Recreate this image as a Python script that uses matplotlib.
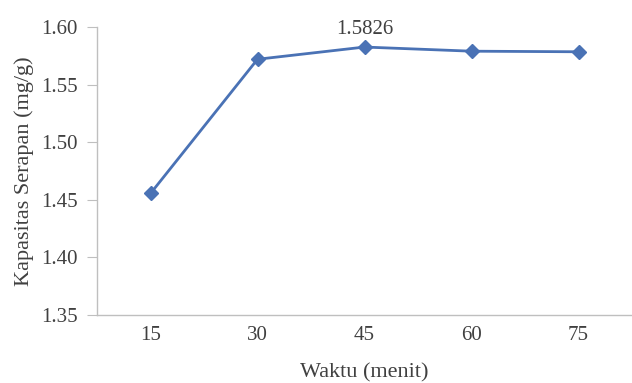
import matplotlib
matplotlib.use("Agg")
import matplotlib.pyplot as plt

# Data
waktu = ["15", "30", "45", "60", "75"]
kapasitas = [1.4555, 1.5720, 1.5826, 1.5790, 1.5785]
yticks = [1.35, 1.40, 1.45, 1.50, 1.55, 1.60]

plt.rcParams['font.family'] = ['Liberation Serif', 'DejaVu Serif']

fig = plt.figure(figsize=(6.32, 3.83), dpi=100)
ax = fig.add_axes([0.1535, 0.1775, 0.8465, 0.752])

x = range(len(waktu))
ax.plot(x, kapasitas, color='#4A72B5', linewidth=2, marker='D', markersize=7.5)
ax.annotate("1.5826", (2, kapasitas[2]), xytext=(0, 6), textcoords='offset points',
            ha='center', va='bottom', fontsize=15, color='#404040')

ax.set_xlim(-0.5, len(waktu) - 0.5)
ax.set_ylim(1.35, 1.60)
ax.set_yticks(yticks)
ax.set_yticklabels(["%.2f" % v for v in yticks])
ax.set_xticks(list(x))
ax.set_xticklabels(waktu)

for s in ['top', 'right']:
    ax.spines[s].set_visible(False)
for s in ['left', 'bottom']:
    ax.spines[s].set_color('#BFBFBF')
    ax.spines[s].set_linewidth(1)
ax.tick_params(axis='y', colors='#BFBFBF', length=7, labelcolor='#404040', labelsize=15, pad=7)
ax.tick_params(axis='x', length=0, labelcolor='#404040', labelsize=15, pad=8)

ax.set_xlabel("Waktu (menit)", fontsize=16, color='#404040', labelpad=13)
ax.set_ylabel("Kapasitas Serapan (mg/g)", fontsize=16, color='#404040', labelpad=5)

fig.savefig("out.png", dpi=100)
